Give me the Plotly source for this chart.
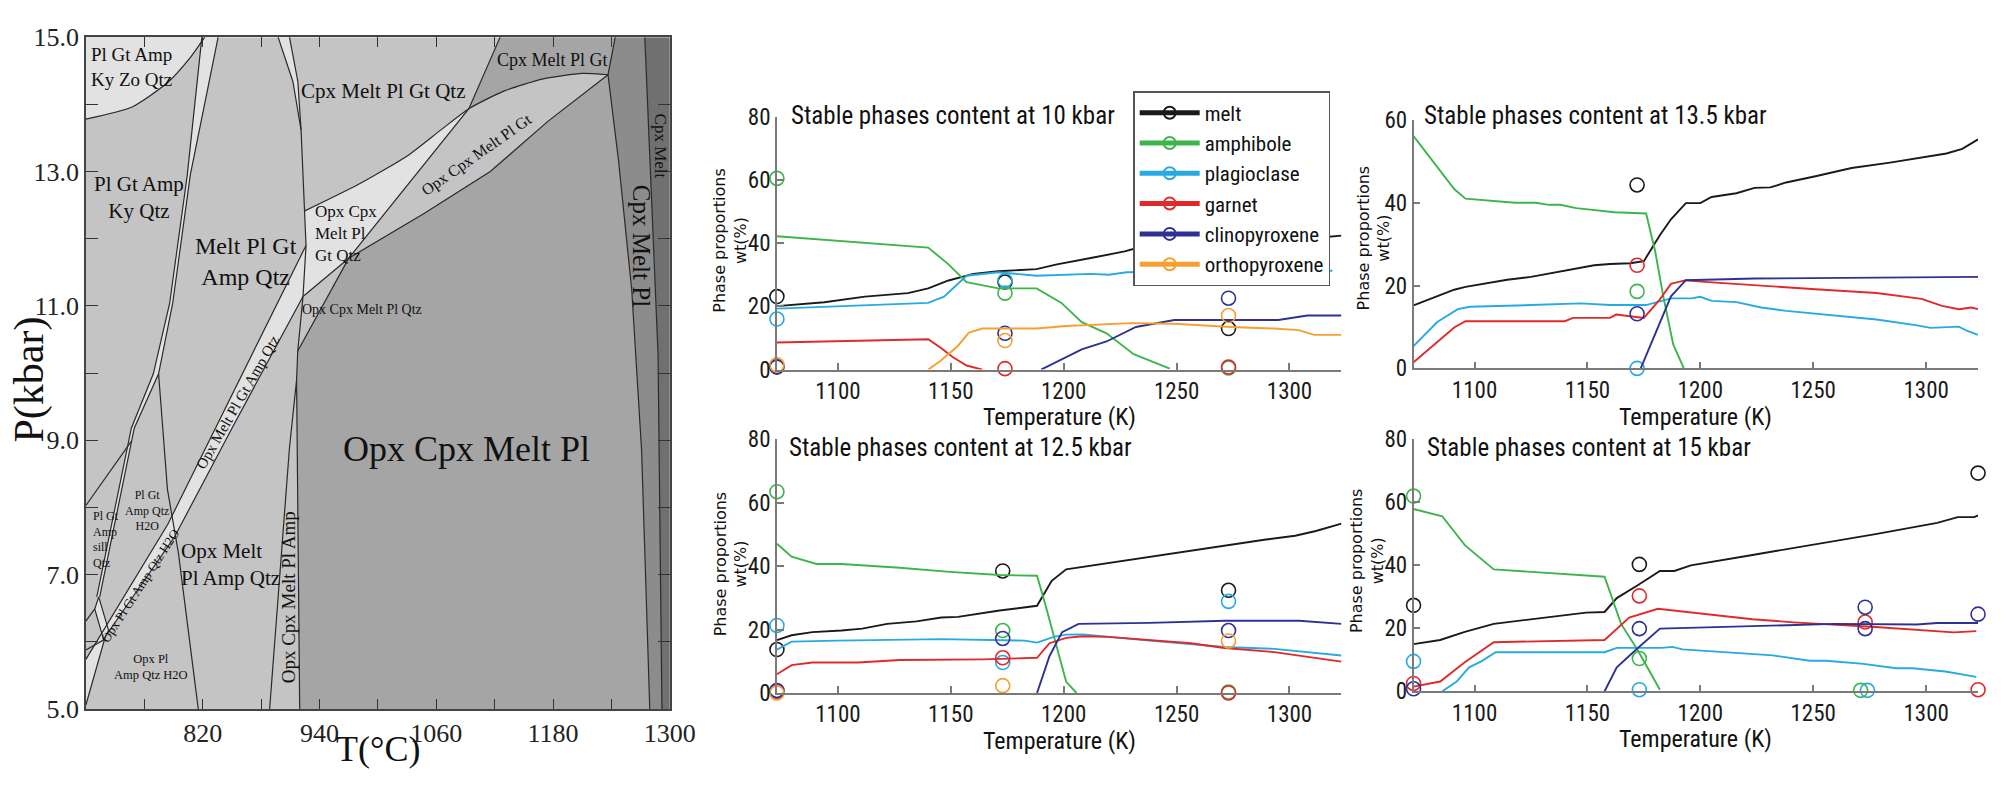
import plotly.graph_objects as go

# ---------------- Phase diagram (T in degC, P in kbar) ----------------
T_RANGE = [700, 1300]
P_RANGE = [5, 15]
T_TICKS = [820, 940, 1060, 1180, 1300]
T_MINOR = [760, 880, 1000, 1120, 1240]
P_TICKS = [5, 7, 9, 11, 13, 15]
P_MINOR = [6, 8, 10, 12, 14]

FRAME = [(700, 5), (1300, 5), (1300, 15), (700, 15)]
A_CURVE = [(700, 13.78), (747.5, 13.96), (783.7, 14.32), (806.4, 14.68), (822.2, 15)]
BC_L = [(819.2, 15), (804.2, 12.95), (786.1, 11.04), (769.3, 9.99), (746.7, 9.18), (726.4, 7.75), (716.3, 7.03), (711.2, 6.67)]
BC_R = [(835.9, 15), (807.3, 12.95), (789.2, 11.04), (774.7, 9.99), (749.7, 9.18), (729.4, 7.75), (719.3, 7.03), (714.2, 6.67)]
L2_LINE = [(774.7, 9.99), (780.8, 8.89), (783.8, 8.27), (795.1, 7.32), (815.5, 5.0)]
L_SILL = [(700, 8.03), (747, 8.99)]
LENS = [(713.2, 6.67), (723.3, 6.17), (718.3, 6.03), (709.1, 6.49)]
L_LEFT1 = [(700, 6.31), (709.1, 6.49)]
L_LEFT2 = [(700, 5.88), (718.3, 6.03)]
DB_UP = [(926.2, 11.90), (833.2, 9.18), (784.2, 7.75), (700, 5.74)]
DB_LO = [(923.1, 11.14), (850.1, 9.18), (791.0, 7.56), (720.0, 6.08), (700, 5.06)]
V_SLIV_L = [(897.5, 15), (912.7, 14.34), (921.1, 13.62)]
V_SLIV_R = [(909.2, 15), (917.8, 14.34), (921.1, 13.62)]
V_LINE = [(921.1, 13.62), (924.4, 12.41), (926.2, 11.90), (923.1, 11.14), (917.7, 10.33), (916.5, 9.9), (917.5, 8.0), (919.7, 5.0)]
S_LINE = [(888.8, 5.0), (909.2, 8.89), (916.5, 9.9)]
D1_LINE = [(917.7, 10.33), (970.1, 11.71), (1093.5, 13.935), (1125.7, 15)]
D2_LINE = [(923.1, 11.14), (970.1, 11.71), (1047.9, 12.38), (1115.5, 13.0), (1175, 13.75), (1236.5, 14.44)]
WU_CURVE = [(924.4, 12.41), (980.2, 12.81), (1030.9, 13.24), (1064.8, 13.62), (1093.5, 13.935), (1130, 14.2), (1170, 14.38), (1210, 14.46), (1236.5, 14.44)]
R1_LINE = [(1243.9, 15), (1236.5, 14.44), (1247.4, 13.15), (1260.9, 11.23), (1271, 8.85), (1279.4, 5.0)]
R2_LINE = [(1274.3, 15), (1287.9, 10.28), (1291.9, 5.0)]

# field labels: (text, T, P, font size, angle, anchor)
FIELD_LABELS = [
    ("Pl Gt Amp<br>Ky Zo Qtz", 746.7, 14.56, 19, 0, "center"),
    ("Cpx Melt Pl Gt Qtz", 1005.3, 14.20, 21, 0, "center"),
    ("Cpx Melt Pl Gt", 1179.7, 14.66, 18, 0, "center"),
    ("Pl Gt Amp<br>Ky Qtz", 754.8, 12.61, 21, 0, "center"),
    ("Melt Pl Gt<br>Amp Qtz", 864.3, 11.66, 24, 0, "center"),
    ("Opx Cpx<br>Melt Pl<br>Gt Qtz", 933.3, 12.08, 17, 0, "left"),
    ("Opx Cpx Melt Pl Gt", 1101.6, 13.24, 16, -35, "center"),
    ("Opx Cpx Melt Pl Qtz", 984.0, 10.94, 14, 0, "center"),
    ("Opx Melt Pl Gt Amp Qtz", 856.2, 9.57, 15, -60, "center"),
    ("Opx Pl Gt Amp Qtz H2O", 755.8, 6.84, 13, -57, "center"),
    ("Pl Gt<br>Amp Qtz<br>H2O", 762.9, 7.96, 12, 0, "center"),
    ("Pl Gt<br>Amp<br>sill<br>Qtz", 705.1, 7.53, 12, 0, "left"),
    ("Opx Melt<br>Pl Amp Qtz", 796.0, 7.15, 21, 0, "left"),
    ("Opx Pl<br>Amp Qtz H2O", 766.9, 5.63, 12.5, 0, "center"),
    ("Opx Cpx Melt Pl Amp", 908.5, 6.66, 19, -90, "center"),
    ("Opx Cpx Melt Pl", 1091.5, 8.87, 36, 0, "center"),
    ("Cpx Melt Pl", 1271.0, 11.90, 25, 90, "center"),
    ("Cpx Melt", 1290.3, 13.38, 17, 90, "center"),
]

# ---------------- Phase proportions (T in K, wt%) ----------------
K_TICKS = [1100, 1150, 1200, 1250, 1300]
K_RANGE = [1073, 1323]
PHASES = ["melt", "amphibole", "plagioclase", "garnet", "clinopyroxene", "orthopyroxene"]
COLORS = ["#1a1a1a", "#3db54a", "#27aae1", "#e02a2a", "#2e3192", "#f5a030"]

# 10 kbar
C10_MELT = [(1073, 20.1), (1094, 21.3), (1112, 23.1), (1131, 24.2), (1140, 25.7), (1149, 28.2), (1160, 30.3), (1171, 31.1), (1188, 31.8), (1197, 33.3), (1212, 35.3), (1227, 37.4), (1232, 38.4), (1250, 39.6), (1280, 40.6), (1300, 41.3), (1315, 41.9), (1323, 42.4)]
C10_AMPH = [(1073, 42.2), (1140, 38.6), (1149, 33.3), (1157, 27.7), (1171, 25.7), (1188, 25.7), (1199, 21.1), (1208, 15.0), (1219, 11.5), (1231, 4.9), (1247, 0.3)]
C10_PLAG = [(1073, 19.3), (1140, 21.1), (1147, 23.1), (1157, 29.7), (1171, 30.8), (1188, 29.7), (1212, 30.3), (1220, 30.0), (1228, 30.8), (1260, 31.2), (1300, 31.4), (1319, 31.3)]
C10_GRT = [(1073, 8.6), (1140, 9.6), (1145.5, 6.9), (1151, 3.9), (1157, 1.3), (1164, 0)]
C10_CPX = [(1190, 0), (1208, 6.4), (1219, 8.9), (1232, 13.5), (1249, 15.7), (1295, 15.7), (1308, 17.1), (1323, 17.1)]
C10_OPX = [(1140, 0), (1145.5, 2.8), (1153, 7.4), (1158, 11.7), (1164, 13.0), (1188, 13.0), (1201, 13.8), (1230, 14.7), (1249, 14.5), (1274, 13.5), (1293, 13.0), (1304, 12.5), (1311, 11.0), (1323, 11.0)]
M10_MELT = [(1073, 23.1), (1174, 27.7), (1273, 13.0)]
M10_AMPH = [(1073, 60.5), (1174, 24.2), (1273, 0.5)]
M10_PLAG = [(1073, 16.0), (1174, 28.2), (1273, 30.0)]
M10_GRT = [(1073, 1.0), (1174, 0.3), (1273, 0.8)]
M10_CPX = [(1073, 0.8), (1174, 11.5), (1273, 22.6)]
M10_OPX = [(1073, 1.5), (1174, 9.2), (1273, 17.1)]

# 13.5 kbar
C13_MELT = [(1073, 15.2), (1091, 19.0), (1096, 19.7), (1114.5, 21.4), (1125, 22.1), (1136, 23.2), (1145, 24.0), (1153, 24.9), (1160, 25.2), (1169, 25.4), (1175, 25.9), (1182, 32.1), (1187, 36.0), (1193.6, 39.9), (1200, 39.9), (1205, 41.4), (1216, 42.3), (1224, 43.6), (1231, 43.7), (1238, 44.9), (1251, 46.4), (1267, 48.4), (1284, 49.7), (1300, 51.1), (1309, 51.9), (1316, 53.0), (1323, 55.3)]
C13_AMPH = [(1073, 56.1), (1091, 43.3), (1096, 41.0), (1118, 40.0), (1127, 40.0), (1133, 39.5), (1138, 39.5), (1145, 38.7), (1162, 37.7), (1176, 37.4), (1180, 28.3), (1183.6, 17.4), (1188, 5.8), (1192.7, 0)]
C13_PLAG = [(1073, 5.4), (1083.5, 11.2), (1092.6, 14.3), (1098, 14.9), (1125, 15.3), (1147, 15.7), (1160, 15.3), (1176, 15.3), (1187, 16.9), (1196, 16.9), (1200, 17.3), (1205, 16.3), (1216, 16.0), (1227, 14.7), (1238, 13.9), (1251, 13.2), (1271, 12.0), (1278, 11.8), (1296, 10.4), (1302, 9.8), (1314.5, 10.1), (1318, 9.1), (1323, 8.1)]
C13_GRT = [(1073, 1.5), (1091, 9.9), (1096, 11.4), (1140, 11.4), (1143.6, 12.2), (1160, 12.2), (1162.7, 13.0), (1169, 12.6), (1175, 12.2), (1182, 16.6), (1187, 20.4), (1193.6, 21.3), (1202, 20.9), (1251, 19.1), (1278, 18.2), (1298, 16.8), (1307, 15.1), (1314.5, 14.3), (1320, 14.7), (1323, 14.3)]
C13_CPX = [(1173.6, 0), (1180, 8.1), (1187, 17.4), (1193.6, 21.3), (1224, 21.7), (1323, 22.1)]
C13_OPX = []
M13_MELT = [(1172, 44.3)]
M13_AMPH = [(1172, 18.6)]
M13_PLAG = [(1172, 0.0)]
M13_GRT = [(1172, 24.9)]
M13_CPX = [(1172, 13.2)]
M13_OPX = []

# 12.5 kbar
C12_MELT = [(1073, 16.7), (1079.5, 18.2), (1088.7, 19.2), (1101.6, 19.7), (1110.8, 20.3), (1121.8, 21.8), (1134.8, 22.6), (1145.8, 23.8), (1153.2, 24.0), (1171.6, 26.0), (1188.2, 27.5), (1194.7, 35.4), (1201.1, 39.0), (1219.5, 41.0), (1238, 43.0), (1256.4, 44.9), (1274.8, 46.9), (1289.6, 48.4), (1302.5, 49.6), (1311.7, 51.1), (1323, 53.4)]
C12_AMPH = [(1073, 47.1), (1079.5, 43.0), (1090.5, 40.7), (1101.6, 40.7), (1127.4, 39.5), (1149.5, 38.2), (1171.6, 37.2), (1188.2, 37.0), (1191.9, 27.8), (1195.6, 17.7), (1201.1, 3.5), (1205.7, 0)]
C12_PLAG = [(1073, 13.7), (1079.5, 16.2), (1099.7, 16.5), (1145.8, 17.0), (1182.7, 16.5), (1188.2, 15.9), (1195.6, 17.7), (1201.1, 18.4), (1208.5, 18.5), (1238, 16.5), (1271.2, 14.5), (1293.3, 13.9), (1323, 11.8)]
C12_GRT = [(1073, 5.9), (1079.5, 8.8), (1088.7, 9.6), (1108.9, 9.6), (1127.4, 10.4), (1164.2, 10.6), (1188.2, 11.1), (1193.7, 15.7), (1201.1, 17.4), (1208.5, 17.9), (1219.5, 17.7), (1238, 16.7), (1256.4, 15.7), (1271.2, 14.2), (1293.3, 12.9), (1323, 9.9)]
C12_CPX = [(1188.2, 0), (1193.7, 11.6), (1199.3, 19.2), (1206.6, 21.8), (1238, 22.1), (1271.2, 22.8), (1304.3, 22.8), (1323, 21.8)]
C12_OPX = []
M12_MELT = [(1073, 13.7), (1173, 38.5), (1273, 32.4)]
M12_AMPH = [(1073, 63.5), (1173, 19.7), (1273, 0.3)]
M12_PLAG = [(1073, 21.3), (1173, 9.6), (1273, 28.9)]
M12_GRT = [(1073, 0.5), (1173, 11.1), (1273, 0.0)]
M12_CPX = [(1073, 0.8), (1173, 17.2), (1273, 19.7)]
M12_OPX = [(1073, 0.0), (1173, 2.3), (1273, 16.4)]

# 15 kbar
C15_MELT = [(1073, 15.0), (1084.8, 16.3), (1095.7, 18.9), (1108.5, 21.4), (1123, 22.7), (1141.2, 24.3), (1149.4, 25.0), (1157.6, 25.2), (1163, 29.6), (1172.1, 33.6), (1182.1, 38.2), (1188.5, 38.2), (1195.8, 40.0), (1223.1, 43.3), (1250.3, 46.6), (1277.6, 49.9), (1304.9, 53.5), (1314, 55.3), (1321.3, 55.3), (1323, 55.9)]
C15_AMPH = [(1073, 57.9), (1085.7, 55.6), (1095.7, 46.4), (1108.5, 38.7), (1157.6, 36.4), (1164.9, 21.4), (1172.1, 13.3), (1182.1, 0.5)]
C15_PLAG = [(1085.7, 0), (1092.1, 3.1), (1097.6, 7.6), (1103, 9.5), (1109.4, 12.4), (1157.6, 12.4), (1163, 13.8), (1183, 13.8), (1187.6, 14.1), (1192.1, 13.3), (1232.1, 11.4), (1248.5, 9.7), (1255.8, 9.7), (1272.2, 8.7), (1286.7, 7.3), (1294, 7.3), (1308.5, 6.3), (1322.2, 4.6)]
C15_GRT = [(1073, 1.5), (1084.8, 3.1), (1095.7, 9.2), (1108.5, 15.6), (1157.6, 16.3), (1168.5, 23.4), (1181.2, 26.2), (1223.1, 22.9), (1241.2, 21.9), (1277.6, 20.4), (1312.2, 18.7), (1322.2, 19.1)]
C15_CPX = [(1157.6, 0), (1163, 7.6), (1172.1, 13.6), (1182.1, 19.9), (1259.4, 21.4), (1277.6, 21.2), (1295.8, 21.2), (1304.9, 21.7), (1323, 21.7)]
C15_OPX = []
M15_MELT = [(1073, 27.3), (1173, 40.3), (1323, 69.3)]
M15_AMPH = [(1073, 62.0), (1173, 10.4), (1271, 0.3)]
M15_PLAG = [(1073, 9.5), (1173, 0.5), (1274, 0.3)]
M15_GRT = [(1073, 2.5), (1173, 30.3), (1273, 22.0), (1323, 0.5)]
M15_CPX = [(1073, 0.8), (1173, 19.9), (1273, 26.7), (1273, 19.9), (1323, 24.5)]
M15_OPX = []

PANEL_TITLES = ["Stable phases content at 10 kbar", "Stable phases content at 13.5 kbar",
                "Stable phases content at 12.5 kbar", "Stable phases content at 15 kbar"]

# ---------------- styling ----------------
NARROW = "Liberation Sans Narrow, Arial Narrow, Roboto Condensed, Roboto, sans-serif"
SERIF = "Liberation Serif, Times New Roman, serif"
SANS = "DejaVu Sans, Verdana, sans-serif"
LIGHT, MED, DARK1, DARK2, DARK3 = "#e2e2e2", "#c4c4c4", "#a5a5a5", "#8c8c8c", "#707070"

fig = go.Figure()


def xs(pts):
    return [p[0] for p in pts]


def ys(pts):
    return [p[1] for p in pts]


def gapped(vals):
    # separate points with None so that no connecting segments are drawn
    out = []
    for v in vals:
        out += [v, None]
    return out[:-1]


def poly(pts, color):
    pts = list(pts) + [pts[0]]
    fig.add_trace(go.Scatter(x=xs(pts), y=ys(pts), mode="lines", fill="toself", fillcolor=color,
                             line=dict(width=0, color=color), hoverinfo="skip", showlegend=False,
                             xaxis="x", yaxis="y"))


def bline(pts, smooth=False):
    fig.add_trace(go.Scatter(x=xs(pts), y=ys(pts), mode="lines",
                             line=dict(width=1.2, color="#2a2a2a", shape="spline" if smooth else "linear",
                                       smoothing=0.6),
                             hoverinfo="skip", showlegend=False, xaxis="x", yaxis="y"))


# regions
poly(FRAME, MED)
dark_main = [V_LINE[-1], V_LINE[-2], V_LINE[-3], V_LINE[-4]] + [D1_LINE[1]] + D2_LINE[2:] + R1_LINE[2:]
poly(dark_main, DARK1)
cmplgt = [D1_LINE[2], D1_LINE[3], R1_LINE[0], R1_LINE[1]] + WU_CURVE[5:-1][::-1]
poly(cmplgt, DARK1)
poly(R1_LINE + R2_LINE[::-1], DARK2)
poly(R2_LINE + [(1300, 5), (1300, 15)], DARK3)
poly(A_CURVE + [(700, 15)], LIGHT)
poly(BC_L + BC_R[::-1], LIGHT)
poly(V_SLIV_L + V_SLIV_R[::-1], LIGHT)
poly(DB_UP + DB_LO[::-1], LIGHT)
poly(WU_CURVE[:5] + [D1_LINE[1], D2_LINE[0], V_LINE[2]], LIGHT)
poly(LENS, LIGHT)

# boundaries
bline(A_CURVE, True)
for ln in [BC_L, BC_R, L2_LINE, L_SILL, L_LEFT1, L_LEFT2, LENS + [LENS[0]], DB_UP, DB_LO,
           V_SLIV_L, V_SLIV_R, V_LINE, S_LINE, D1_LINE, D2_LINE, R1_LINE, R2_LINE]:
    bline(ln)
bline(WU_CURVE, True)

# ---------------- panels ----------------
panels = [
    ("x2", "y2", [C10_MELT, C10_AMPH, C10_PLAG, C10_GRT, C10_CPX, C10_OPX],
     [M10_MELT, M10_AMPH, M10_PLAG, M10_GRT, M10_CPX, M10_OPX], True),
    ("x3", "y3", [C13_MELT, C13_AMPH, C13_PLAG, C13_GRT, C13_CPX, C13_OPX],
     [M13_MELT, M13_AMPH, M13_PLAG, M13_GRT, M13_CPX, M13_OPX], False),
    ("x4", "y4", [C12_MELT, C12_AMPH, C12_PLAG, C12_GRT, C12_CPX, C12_OPX],
     [M12_MELT, M12_AMPH, M12_PLAG, M12_GRT, M12_CPX, M12_OPX], False),
    ("x5", "y5", [C15_MELT, C15_AMPH, C15_PLAG, C15_GRT, C15_CPX, C15_OPX],
     [M15_MELT, M15_AMPH, M15_PLAG, M15_GRT, M15_CPX, M15_OPX], False),
]

for xa, ya, curves, marks, legend in panels:
    for name, col, cur, mk in zip(PHASES, COLORS, curves, marks):
        if cur:
            fig.add_trace(go.Scatter(
                x=xs(cur), y=ys(cur), mode="lines", name=name, legendgroup=name,
                line=dict(color=col, width=1.9),
                showlegend=False, xaxis=xa, yaxis=ya, hoverinfo="skip"))
        if mk:
            fig.add_trace(go.Scatter(
                x=gapped(xs(mk)), y=gapped(ys(mk)), mode="lines+markers", name=name, legendgroup=name,
                connectgaps=False, line=dict(color=col, width=1.9),
                marker=dict(symbol="circle-open", size=14, color=col, line=dict(width=1.6, color=col)),
                showlegend=legend, xaxis=xa, yaxis=ya, cliponaxis=False, hoverinfo="skip"))

# ---------------- layout ----------------
PX = dict(showgrid=False, zeroline=False, showline=True, linecolor="#7a7a7a", linewidth=1.6,
          ticks="inside", ticklen=7, tickwidth=1.5, tickcolor="#7a7a7a",
          tickfont=dict(family=NARROW, size=23, color="#1a1a1a"))
COL1 = [0.3910, 0.6751]
COL2 = [0.7114, 0.9955]

layout = dict(
    width=2013, height=785, margin=dict(l=0, r=0, t=0, b=0),
    paper_bgcolor="white", plot_bgcolor="white",
    xaxis=dict(domain=[0.04322, 0.3371], range=T_RANGE, anchor="y", showgrid=False, zeroline=False,
               showline=True, linecolor="#444", linewidth=1.5, mirror="ticks",
               tickmode="array", tickvals=T_TICKS, ticktext=[str(v) for v in T_TICKS],
               ticks="inside", ticklen=10, tickcolor="#333", tickwidth=1,
               minor=dict(tickmode="array", tickvals=T_MINOR, ticks="inside", ticklen=10, tickcolor="#333"),
               tickfont=dict(family=SERIF, size=26, color="#222")),
    yaxis=dict(domain=[0.0806, 0.9694], range=P_RANGE, anchor="x", showgrid=False, zeroline=False,
               showline=True, linecolor="#444", linewidth=1.5, mirror="ticks",
               tickmode="array", tickvals=P_TICKS, ticktext=["%.1f" % v for v in P_TICKS],
               ticks="inside", ticklen=12, tickcolor="#333", tickwidth=1,
               minor=dict(tickmode="array", tickvals=P_MINOR, ticks="inside", ticklen=12, tickcolor="#333"),
               tickfont=dict(family=SERIF, size=26, color="#222")),
    xaxis2=dict(domain=COL1, range=K_RANGE, anchor="y2", tickvals=K_TICKS, **PX),
    yaxis2=dict(domain=[0.5296, 0.8641], range=[0, 80], anchor="x2", tickvals=[0, 20, 40, 60, 80], **PX),
    xaxis3=dict(domain=COL2, range=K_RANGE, anchor="y3", tickvals=K_TICKS, **PX),
    yaxis3=dict(domain=[0.5312, 0.8599], range=[0, 60], anchor="x3", tickvals=[0, 20, 40, 60], **PX),
    xaxis4=dict(domain=COL1, range=K_RANGE, anchor="y4", tickvals=K_TICKS, **PX),
    yaxis4=dict(domain=[0.1019, 0.4373], range=[0, 80], anchor="x4", tickvals=[0, 20, 40, 60, 80], **PX),
    xaxis5=dict(domain=COL2, range=K_RANGE, anchor="y5", tickvals=K_TICKS, **PX),
    yaxis5=dict(domain=[0.1041, 0.4373], range=[0, 80], anchor="x5", tickvals=[0, 20, 40, 60, 80], **PX),
    showlegend=True,
    legend=dict(x=0.5703, y=0.8981, xanchor="left", yanchor="top", bgcolor="white",
                bordercolor="#555", borderwidth=1.5, font=dict(family=NARROW, size=21, color="#111"),
                itemsizing="constant", itemwidth=60, tracegroupgap=6, traceorder="normal"),
)
fig.update_layout(**layout)

ann = []
for text, t, p, size, angle, anchor in FIELD_LABELS:
    ann.append(dict(text=text, x=t, y=p, xref="x", yref="y", showarrow=False, textangle=angle,
                    xanchor=anchor, yanchor="middle", align=anchor,
                    font=dict(family=SERIF, size=size, color="#111")))
ann.append(dict(text="P(kbar)", x=0.0149, y=0.516, xref="paper", yref="paper", showarrow=False,
                xanchor="center", yanchor="middle",
                textangle=-90, font=dict(family=SERIF, size=42, color="#111")))
ann.append(dict(text="T(°C)", x=0.1900, y=0.0, xref="paper", yref="paper", showarrow=False,
                xanchor="center", yanchor="bottom", borderpad=0,
                font=dict(family=SERIF, size=36, color="#111")))

title_pos = [(0.3969, 0.8662), (0.7159, 0.8662), (0.3963, 0.4268), (0.7170, 0.4268)]
for ttl, (x, y) in zip(PANEL_TITLES, title_pos):
    ann.append(dict(text=ttl, x=x, y=y, xref="paper", yref="paper", showarrow=False, xanchor="left",
                    yanchor="middle", font=dict(family=NARROW, size=25, color="#111")))
ytitle_pos = [(0.3676, 0.7006), (0.6915, 0.7032), (0.3676, 0.2726), (0.688, 0.2764)]
for x, y in ytitle_pos:
    ann.append(dict(text="Phase proportions<br>wt(%)", x=x, y=y, xref="paper", yref="paper",
                    xanchor="center", yanchor="middle",
                    showarrow=False, textangle=-90, font=dict(family=SANS, size=16, color="#111")))
xtitle_pos = [(0.5330, 0.4675), (0.8535, 0.4675), (0.5330, 0.0382), (0.8535, 0.0408)]
for x, y in xtitle_pos:
    ann.append(dict(text="Temperature (K)", x=x, y=y, xref="paper", yref="paper", showarrow=False,
                    xanchor="center", yanchor="middle",
                    font=dict(family=NARROW, size=24, color="#111")))
fig.update_layout(annotations=ann)

fig.write_html("out.html", config={"displayModeBar": False},
               post_script="document.body.style.margin='0';document.body.style.overflow='hidden';")
